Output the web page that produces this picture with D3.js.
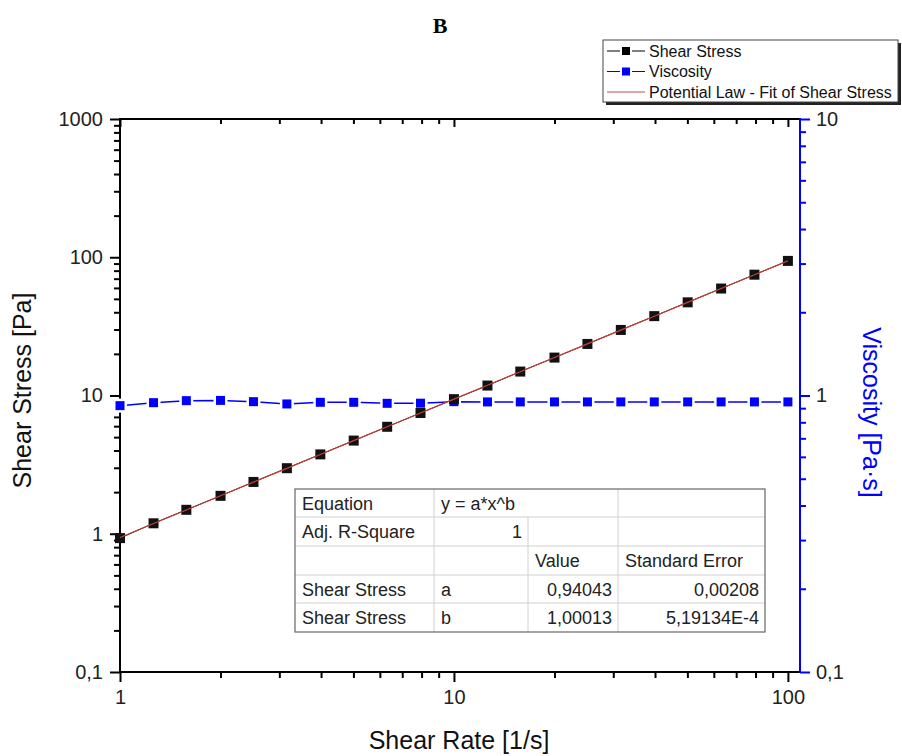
<!DOCTYPE html>
<html>
<head>
<meta charset="utf-8">
<script src="https://cdn.jsdelivr.net/npm/d3@7"></script>
<style>
  html, body { margin: 0; padding: 0; background: #fff; }
  svg { display: block; font-family: "Liberation Sans", Arial, sans-serif; }
</style>
</head>
<body>
<svg id="chart" width="902" height="756"></svg>
<script>
// Shear rate sweep (1/s)
const shearRate = [1, 1.26, 1.58, 2, 2.51, 3.16, 3.98, 5.01, 6.31, 7.94, 10,
                   12.6, 15.8, 20, 25.1, 31.6, 39.8, 50.1, 63.1, 79.4, 100];
// Measured shear stress (Pa)
const shearStress = [0.93, 1.19, 1.49, 1.88, 2.37, 2.98, 3.75, 4.72, 5.94, 7.47, 9.41,
                     11.8, 14.9, 18.8, 23.6, 29.8, 37.5, 47.2, 59.4, 74.8, 94.1];
// Apparent viscosity (Pa·s)
const viscosity = [0.919, 0.942, 0.958, 0.960, 0.950, 0.932, 0.945, 0.945, 0.937, 0.938, 0.950,
                   0.948, 0.948, 0.948, 0.948, 0.948, 0.948, 0.948, 0.948, 0.948, 0.948];
// Power-law fit parameters y = a*x^b
const fitA = 0.94043, fitB = 1.00013;
// Axis tick labels
const xMajor = [1, 10, 100];
const yLeftMajor = [0.1, 1, 10, 100, 1000];
const yRightMajor = [0.1, 1, 10];
const fmt = d => String(d).replace(".", ",");
// Legend entries
const legendItems = ["Shear Stress", "Viscosity", "Potential Law - Fit of Shear Stress"];
// Fit results table
const tableRows = [
  ["Equation", "y = a*x^b", "", ""],
  ["Adj. R-Square", "1", "", ""],
  ["", "", "Value", "Standard Error"],
  ["Shear Stress", "a", "0,94043", "0,00208"],
  ["Shear Stress", "b", "1,00013", "5,19134E-4"]
];

const svg = d3.select("#chart");
const L = 120, R = 800, T = 119, B = 672;
const BLUE = "#0000ff";

const x = d3.scaleLog().domain([1, 108.7]).range([L, R]);
const yL = d3.scaleLog().domain([0.1, 1000]).range([B, T]);
const yR = d3.scaleLog().domain([0.1, 10]).range([B, T]);

function minors(lo, hi) {
  const out = [];
  for (let e = lo; e < hi; e++) for (let m = 2; m <= 9; m++) out.push(m * Math.pow(10, e));
  return out;
}
const xMinor = minors(0, 3).filter(v => v <= 108.7);
const yLMinor = minors(-1, 3);
const yRMinor = minors(-1, 1);

function drawAxis(axisGen, scale, values, size, pos, color, labels) {
  const g = svg.append("g").attr("transform", pos);
  const ax = axisGen(scale).tickValues(values).tickSizeOuter(0).tickSize(size)
    .tickPadding(labels ? 6 : 0)
    .tickFormat(labels ? fmt : () => "");
  g.call(ax);
  g.select(".domain").remove();
  g.selectAll(".tick line").attr("stroke", color).attr("stroke-width", 2);
  g.selectAll(".tick text").attr("fill", "#222")
    .attr("font-size", 20).attr("font-family", "Liberation Sans, Arial, sans-serif");
  return g;
}

// left axis (outward ticks)
drawAxis(d3.axisLeft, yL, yLMinor, 6, `translate(${L},0)`, "#000", false);
const gl = drawAxis(d3.axisLeft, yL, yLeftMajor, 10, `translate(${L},0)`, "#000", true);
gl.selectAll(".tick text").attr("dx", "-1");
// bottom axis (outward ticks)
drawAxis(d3.axisBottom, x, xMinor, 6, `translate(0,${B})`, "#000", false);
const gb = drawAxis(d3.axisBottom, x, xMajor, 10, `translate(0,${B})`, "#000", true);
gb.selectAll(".tick text").attr("dy", "0.8em");
// top axis (inward ticks)
drawAxis(d3.axisTop, x, xMinor, -5, `translate(0,${T})`, "#000", false);
drawAxis(d3.axisTop, x, xMajor, -8, `translate(0,${T})`, "#000", false);
// right axis in blue (outward ticks)
drawAxis(d3.axisRight, yR, yRMinor, 6, `translate(${R},0)`, BLUE, false);
const gr = drawAxis(d3.axisRight, yR, yRightMajor, 10, `translate(${R},0)`, BLUE, true);
gr.selectAll(".tick text").attr("dx", "0");

// frame
svg.append("line").attr("x1", L).attr("x2", R).attr("y1", T).attr("y2", T).attr("stroke", "#000").attr("stroke-width", 2);
svg.append("line").attr("x1", L).attr("x2", R).attr("y1", B).attr("y2", B).attr("stroke", "#000").attr("stroke-width", 2);
svg.append("line").attr("x1", L).attr("x2", L).attr("y1", T - 1).attr("y2", B + 1).attr("stroke", "#000").attr("stroke-width", 2);
svg.append("line").attr("x1", R).attr("x2", R).attr("y1", T - 1).attr("y2", B + 1).attr("stroke", BLUE).attr("stroke-width", 2);

// viscosity series (line broken around each marker)
const visc = shearRate.map((r, i) => [r, viscosity[i]]);
svg.append("path").datum(visc)
  .attr("d", d3.line().x(d => x(d[0])).y(d => yR(d[1])))
  .attr("fill", "none").attr("stroke", BLUE).attr("stroke-width", 1.5);
svg.append("g").selectAll("rect").data(visc).join("rect")
  .attr("x", d => x(d[0]) - 4.5).attr("y", d => yR(d[1]) - 4.5)
  .attr("width", 9).attr("height", 9).attr("fill", BLUE)
  .attr("stroke", "#fff").attr("stroke-width", 5).attr("paint-order", "stroke");

// shear stress series
const stress = shearRate.map((r, i) => [r, shearStress[i]]);
svg.append("path").datum(stress)
  .attr("d", d3.line().x(d => x(d[0])).y(d => yL(d[1])))
  .attr("fill", "none").attr("stroke", "#000").attr("stroke-width", 1);
svg.append("g").selectAll("rect").data(stress).join("rect")
  .attr("x", d => x(d[0]) - 5).attr("y", d => yL(d[1]) - 5)
  .attr("width", 10).attr("height", 10).attr("fill", "#111");

// power-law fit line, evaluated at the measured shear rates
const fit = shearRate.map(r => [r, fitA * Math.pow(r, fitB)]);
svg.append("path").datum(fit)
  .attr("d", d3.line().x(d => x(d[0])).y(d => yL(d[1])))
  .attr("fill", "none").attr("stroke", "#c8403a").attr("stroke-width", 1.2);

// fit results table
const colX = [295, 434, 528, 618, 765];
const rowY = [489, 517, 546, 575, 603, 632];
const tg = svg.append("g");
tg.append("rect").attr("x", colX[0]).attr("y", rowY[0]).attr("width", colX[4] - colX[0])
  .attr("height", rowY[5] - rowY[0]).attr("fill", "#fff");
for (let i = 1; i < 5; i++) {
  tg.append("line").attr("x1", colX[0]).attr("x2", colX[4]).attr("y1", rowY[i]).attr("y2", rowY[i])
    .attr("stroke", "#d0d0d0").attr("stroke-width", 1);
}
for (let j = 1; j < 4; j++) {
  tg.append("line").attr("x1", colX[j]).attr("x2", colX[j])
    .attr("y1", j === 2 ? rowY[1] : rowY[0]).attr("y2", rowY[5])
    .attr("stroke", "#d0d0d0").attr("stroke-width", 1);
}
tg.append("rect").attr("x", colX[0]).attr("y", rowY[0]).attr("width", colX[4] - colX[0])
  .attr("height", rowY[5] - rowY[0]).attr("fill", "none").attr("stroke", "#666").attr("stroke-width", 1.2);
const rightAligned = (r, c) => (r === 1 && c === 1) || (r >= 3 && c >= 2);
tableRows.forEach((row, r) => {
  row.forEach((txt, c) => {
    if (!txt) return;
    const ra = rightAligned(r, c);
    tg.append("text")
      .attr("x", ra ? colX[c + 1] - 6 : colX[c] + 7)
      .attr("y", (rowY[r] + rowY[r + 1]) / 2 + 6.5)
      .attr("text-anchor", ra ? "end" : "start")
      .attr("font-size", 18).attr("fill", "#222").text(txt);
  });
});

// legend
const lg = svg.append("g");
lg.append("rect").attr("x", 606).attr("y", 43).attr("width", 295).attr("height", 62).attr("fill", "#222");
lg.append("rect").attr("x", 603).attr("y", 40).attr("width", 295).attr("height", 62)
  .attr("fill", "#fff").attr("stroke", "#444").attr("stroke-width", 1);
const legColors = ["#000", BLUE, "#d04a4a"];
legendItems.forEach((name, i) => {
  const cy = 51 + i * 20.5;
  lg.append("line").attr("x1", 607).attr("x2", 645).attr("y1", cy).attr("y2", cy)
    .attr("stroke", legColors[i]).attr("stroke-width", 1.2);
  if (i < 2) {
    lg.append("rect").attr("x", 622).attr("y", cy - 4).attr("width", 8).attr("height", 8)
      .attr("fill", legColors[i]).attr("stroke", "#fff").attr("stroke-width", 4).attr("paint-order", "stroke");
  }
  lg.append("text").attr("x", 649).attr("y", cy + 5.5).attr("font-size", 16).attr("fill", "#111").text(name);
});

// titles
svg.append("text").attr("x", 440).attr("y", 33).attr("text-anchor", "middle")
  .attr("font-family", "Liberation Serif, Times New Roman, serif").attr("font-weight", "bold")
  .attr("font-size", 22).text("B");
svg.append("text").attr("transform", `translate(31,${(T + B) / 2 - 5}) rotate(-90)`)
  .attr("text-anchor", "middle").attr("font-size", 25).attr("fill", "#111").text("Shear Stress [Pa]");
svg.append("text").attr("x", 459).attr("y", 749)
  .attr("text-anchor", "middle").attr("font-size", 25).attr("fill", "#111").text("Shear Rate [1/s]");
svg.append("text").attr("transform", `translate(863,${(T + B) / 2 + 17}) rotate(90)`)
  .attr("text-anchor", "middle").attr("font-size", 25).attr("fill", BLUE).text("Viscosity [Pa·s]");
</script>
</body>
</html>
